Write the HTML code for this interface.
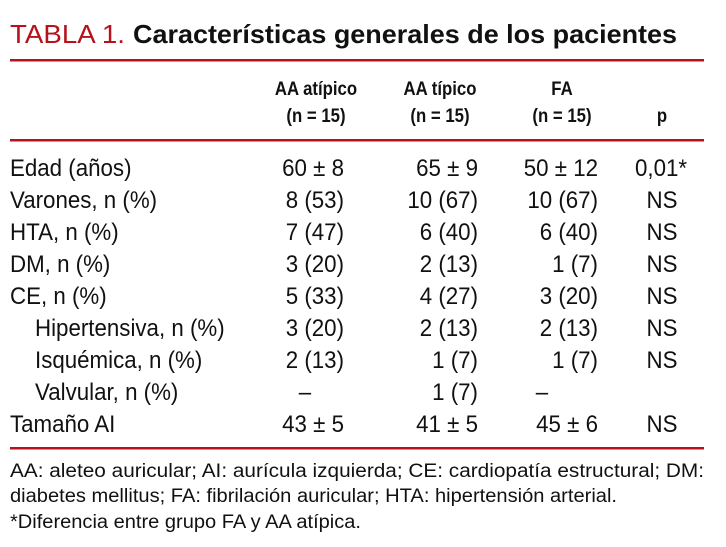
<!DOCTYPE html>
<html><head><meta charset="utf-8"><style>
html,body{margin:0;padding:0;background:#fff;}
svg{display:block;}
text{font-family:"Liberation Sans",sans-serif;fill:#111;}
</style></head><body>
<svg width="726" height="547" viewBox="0 0 726 547">
<g>
<text x="10" y="43" font-size="26" style="fill:#b5121b" textLength="115" lengthAdjust="spacingAndGlyphs">TABLA 1.</text>
<text x="133" y="43" font-size="26" font-weight="bold" textLength="544" lengthAdjust="spacingAndGlyphs">Características generales de los pacientes</text>
</g>
<rect x="10" y="59" width="694" height="2.5" fill="#b5121b"/>
<g font-size="19.5" font-weight="bold" text-anchor="middle">
<g transform="translate(316,95) scale(0.86,1)"><text>AA atípico</text></g>
<g transform="translate(316,122) scale(0.86,1)"><text>(n = 15)</text></g>
<g transform="translate(440,95) scale(0.86,1)"><text>AA típico</text></g>
<g transform="translate(440,122) scale(0.86,1)"><text>(n = 15)</text></g>
<g transform="translate(562,95) scale(0.86,1)"><text>FA</text></g>
<g transform="translate(562,122) scale(0.86,1)"><text>(n = 15)</text></g>
<g transform="translate(662,122) scale(0.86,1)"><text>p</text></g>
</g>
<rect x="10" y="139" width="694" height="2.5" fill="#b5121b"/>
<g id="body" font-size="24"></g>
<rect x="10" y="447" width="694" height="2.5" fill="#b5121b"/>
<g font-size="19">
<text x="10" y="477" textLength="694" lengthAdjust="spacingAndGlyphs">AA: aleteo auricular; AI: aurícula izquierda; CE: cardiopatía estructural; DM:</text>
<text x="10" y="502" textLength="607" lengthAdjust="spacingAndGlyphs">diabetes mellitus; FA: fibrilación auricular; HTA: hipertensión arterial.</text>
<text x="10" y="528" textLength="351" lengthAdjust="spacingAndGlyphs">*Diferencia entre grupo FA y AA atípica.</text>
</g>
</svg>
<script>
const rowLabels=["Edad (años)","Varones, n (%)","HTA, n (%)","DM, n (%)","CE, n (%)","Hipertensiva, n (%)","Isquémica, n (%)","Valvular, n (%)","Tamaño AI"];
const indented=[false,false,false,false,false,true,true,true,false];
const colAtipico=["60 ± 8","8 (53)","7 (47)","3 (20)","5 (33)","3 (20)","2 (13)","–","43 ± 5"];
const colTipico=["65 ± 9","10 (67)","6 (40)","2 (13)","4 (27)","2 (13)","1 (7)","1 (7)","41 ± 5"];
const colFA=["50 ± 12","10 (67)","6 (40)","1 (7)","3 (20)","2 (13)","1 (7)","–","45 ± 6"];
const colP=["0,01*","NS","NS","NS","NS","NS","NS","","NS"];
const NS="http://www.w3.org/2000/svg";
const body=document.getElementById('body');
function txt(s,x,y,anchor,name){
  const g=document.createElementNS(NS,'g');
  g.setAttribute('transform','translate('+x+','+y+') scale(0.93,1)');
  const t=document.createElementNS(NS,'text');
  t.setAttribute('text-anchor',anchor);
  t.textContent=s;
  
  
  g.appendChild(t);body.appendChild(g);
}
rowLabels.forEach((l,i)=>{
  const y=176+i*32;
  txt(l,indented[i]?35:10,y,'start','row-label');
  const a=colAtipico[i];
  if(a==='–') txt(a,305,y,'middle','cell-aa-atipico'); else txt(a,344,y,'end','cell-aa-atipico');
  txt(colTipico[i],478,y,'end','cell-aa-tipico');
  const f=colFA[i];
  if(f==='–') txt(f,542,y,'middle','cell-fa'); else txt(f,598,y,'end','cell-fa');
  if(colP[i]) txt(colP[i],i===0?635:662,y,i===0?'start':'middle','cell-p');
});
</script>
</body></html>
